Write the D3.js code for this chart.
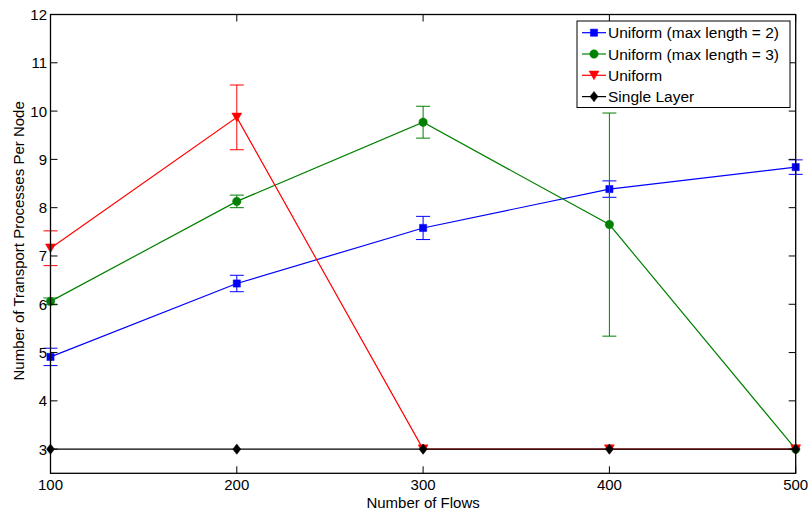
<!DOCTYPE html>
<html>
<head>
<meta charset="utf-8">
<script src="https://cdn.jsdelivr.net/npm/d3@7"></script>
<style>
  body { margin: 0; background: #fff; }
  svg { display: block; font-family: "Liberation Sans", Arial, sans-serif; }
</style>
</head>
<body>
<svg id="chart" width="812" height="513"></svg>
<script>
// flows on the x axis
const flows = [100, 200, 300, 400, 500]
const x_ticks = [100, 200, 300, 400, 500]
const y_ticks = [3, 4, 5, 6, 7, 8, 9, 10, 11, 12]

// mean values and error (half height of the bar)
const max_len_2 = [4.91, 6.43, 7.58, 8.385, 8.84]
const max_len_2_err = [0.18, 0.17, 0.24, 0.17, 0.15]
const max_len_3 = [6.06, 8.13, 9.77, 7.65, 3.0]
const max_len_3_err = [0.07, 0.13, 0.33, 2.31, 0]
const uniform = [7.16, 9.87, 3.0, 3.0, 3.0]
const uniform_err = [0.36, 0.67, 0, 0, 0]
const single_layer = [3, 3, 3, 3, 3]
const single_layer_err = [0, 0, 0, 0, 0]

const series_names = ['Uniform (max length = 2)', 'Uniform (max length = 3)', 'Uniform', 'Single Layer']

const series = [
    { name: series_names[0], values: max_len_2, err: max_len_2_err, color: '#0000ff', marker: 'square' },
    { name: series_names[1], values: max_len_3, err: max_len_3_err, color: '#008000', marker: 'circle' },
    { name: series_names[2], values: uniform, err: uniform_err, color: '#ff0000', marker: 'triangle' },
    { name: series_names[3], values: single_layer, err: single_layer_err, color: '#000000', marker: 'diamond' }
]

const svg = d3.select('#chart')
const margin = ({ top: 14.5, right: 16.3, bottom: 39.7, left: 50.5 })
const width = 812, height = 513

const x = d3.scaleLinear()
    .domain([100, 500])
    .range([margin.left, width - margin.right])
const y = d3.scaleLinear()
    .domain([2.5, 12])
    .range([height - margin.bottom, margin.top])

const tick_len = 7
const x0 = x.range()[0], x1 = x.range()[1]
const y0 = y.range()[0], y1 = y.range()[1]

// series lines, error bars and markers
const marker_path = (type) => {
    if (type === 'square') return 'M-3.6,-3.6H3.6V3.6H-3.6Z'
    if (type === 'circle') return d3.symbol(d3.symbolCircle, 56)()
    if (type === 'triangle') return 'M-5,-4.3L5,-4.3L0,4.5Z'
    return 'M0,-5.2L4,0L0,5.2L-4,0Z'
}

const line = d3.line()
    .x((d, i) => x(flows[i]))
    .y(d => y(d))

series.forEach(s => {
    const g = svg.append('g')

    s.values.forEach((v, i) => {
        if (s.err[i] <= 0) return
        const cx = x(flows[i])
        const top = y(v + s.err[i]), bot = y(v - s.err[i])
        g.append('line').attr('x1', cx).attr('x2', cx).attr('y1', top).attr('y2', bot)
            .attr('stroke', s.color).attr('stroke-width', 1)
        g.append('line').attr('x1', cx - 7).attr('x2', cx + 7).attr('y1', top).attr('y2', top)
            .attr('stroke', s.color).attr('stroke-width', 1)
        g.append('line').attr('x1', cx - 7).attr('x2', cx + 7).attr('y1', bot).attr('y2', bot)
            .attr('stroke', s.color).attr('stroke-width', 1)
    })

    g.append('path')
        .datum(s.values)
        .attr('fill', 'none')
        .attr('stroke', s.color)
        .attr('stroke-width', 1.2)
        .attr('d', line)

    g.selectAll('.mk')
        .data(s.values)
        .join('path')
        .attr('transform', (d, i) => `translate(${x(flows[i])},${y(d)})`)
        .attr('d', marker_path(s.marker))
        .attr('fill', s.color)
        .attr('stroke', s.color)
        .attr('stroke-width', 0.5)
})

// axes box with inward ticks on all sides
const frame = svg.append('g')
frame.append('rect')
    .attr('x', x0).attr('y', y1)
    .attr('width', x1 - x0).attr('height', y0 - y1)
    .attr('fill', 'none').attr('stroke', '#000').attr('stroke-width', 1.3)

x_ticks.forEach(t => {
    frame.append('line').attr('x1', x(t)).attr('x2', x(t)).attr('y1', y0).attr('y2', y0 - tick_len)
        .attr('stroke', '#000')
    frame.append('line').attr('x1', x(t)).attr('x2', x(t)).attr('y1', y1).attr('y2', y1 + tick_len)
        .attr('stroke', '#000')
    frame.append('text')
        .attr('x', x(t)).attr('y', 490)
        .attr('text-anchor', 'middle')
        .attr('font-size', 15)
        .text(t)
})

y_ticks.forEach(t => {
    frame.append('line').attr('x1', x0).attr('x2', x0 + tick_len).attr('y1', y(t)).attr('y2', y(t))
        .attr('stroke', '#000')
    frame.append('line').attr('x1', x1).attr('x2', x1 - tick_len).attr('y1', y(t)).attr('y2', y(t))
        .attr('stroke', '#000')
    frame.append('text')
        .attr('x', 47).attr('y', y(t) + 5.5)
        .attr('text-anchor', 'end')
        .attr('font-size', 15)
        .text(t)
})

svg.append('text')
    .attr('x', (x0 + x1) / 2).attr('y', 507.5)
    .attr('text-anchor', 'middle')
    .attr('font-size', 15)
    .text('Number of Flows')

svg.append('text')
    .attr('transform', `translate(24,${(y0 + y1) / 2 - 3}) rotate(-90)`)
    .attr('text-anchor', 'middle')
    .attr('font-size', 15)
    .text('Number of Transport Processes Per Node')

// legend
const legend = svg.append('g')
legend.append('rect')
    .attr('x', 577).attr('y', 21)
    .attr('width', 213).attr('height', 86.5)
    .attr('fill', '#fff').attr('stroke', '#000').attr('stroke-width', 1)

series.forEach((s, i) => {
    const ly = 32.7 + i * 21.3
    legend.append('line')
        .attr('x1', 582).attr('x2', 606).attr('y1', ly).attr('y2', ly)
        .attr('stroke', s.color).attr('stroke-width', 1.2)
    legend.append('path')
        .attr('transform', `translate(594,${ly})`)
        .attr('d', marker_path(s.marker))
        .attr('fill', s.color).attr('stroke', s.color).attr('stroke-width', 0.5)
    legend.append('text')
        .attr('x', 608).attr('y', ly + 5.5)
        .attr('font-size', 15.5)
        .text(s.name)
})
</script>
</body>
</html>
